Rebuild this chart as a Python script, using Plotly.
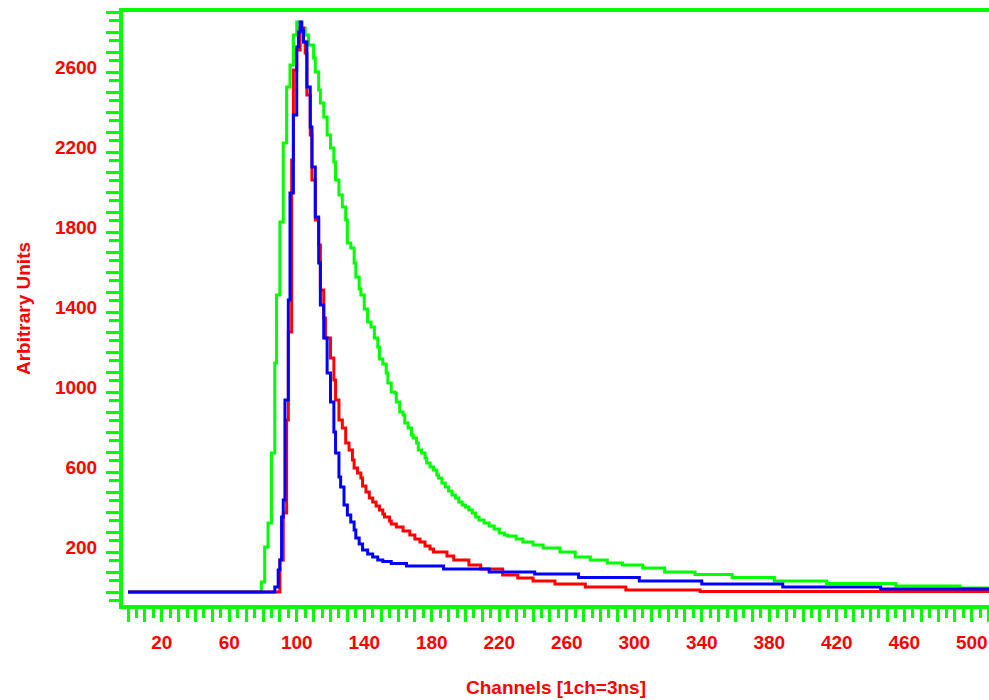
import plotly.graph_objects as go

# ---- data (channel where a level starts, count of that level) ----
green_channels = [0, 79, 81, 83, 85, 87, 88, 90, 92, 94, 96, 98, 100, 102, 105, 107, 110, 111, 113,
                  114, 116, 118, 120, 122, 123, 125, 127, 129, 130, 132, 134, 135, 137, 138, 140,
                  142, 144, 146, 148, 149, 151, 153, 154, 156, 158, 159, 161, 163, 164, 166, 168,
                  169, 171, 172, 174, 176, 177, 179, 181, 183, 184, 186, 188, 190, 192, 194, 196,
                  198, 200, 202, 204, 206, 208, 211, 214, 217, 220, 223, 225, 230, 234, 240, 246,
                  256, 265, 274, 284, 293, 305, 318, 336, 358, 383, 414, 455, 493, 511]
green_counts = [0, 50, 225, 345, 695, 1145, 1485, 1850, 2245, 2525, 2635, 2785, 2850, 2820, 2785,
                2735, 2670, 2600, 2510, 2445, 2375, 2285, 2220, 2150, 2060, 1985, 1925, 1860, 1745,
                1720, 1645, 1575, 1515, 1485, 1415, 1350, 1325, 1270, 1225, 1165, 1140, 1095, 1045,
                1000, 995, 950, 900, 885, 845, 820, 785, 770, 745, 710, 695, 670, 645, 625, 610,
                585, 570, 545, 525, 505, 485, 470, 450, 435, 425, 410, 395, 375, 360, 345, 330,
                315, 295, 285, 280, 265, 250, 235, 220, 200, 175, 160, 145, 135, 120, 100, 88, 72,
                55, 42, 30, 20, 20]

red_channels = [0, 90, 92, 94, 95, 97, 98, 100, 102, 104, 105, 106, 108, 109, 111, 113, 114, 116,
                117, 120, 122, 123, 125, 127, 129, 131, 133, 134, 136, 138, 139, 141, 143, 145,
                147, 149, 151, 152, 155, 156, 159, 163, 167, 170, 173, 176, 179, 181, 189, 193,
                202, 209, 222, 231, 240, 253, 271, 295, 339, 511]
red_counts = [0, 160, 395, 860, 1300, 2160, 2610, 2710, 2820, 2750, 2695, 2485, 2285, 2060, 1860,
              1735, 1510, 1370, 1270, 1170, 1060, 960, 860, 820, 745, 710, 660, 620, 595, 570, 530,
              500, 470, 450, 430, 410, 390, 375, 355, 340, 325, 305, 285, 265, 250, 230, 215, 200,
              180, 160, 135, 115, 85, 70, 55, 40, 25, 10, 2, 2]

blue_channels = [0, 87, 89, 90, 91, 92, 93, 95, 96, 98, 100, 101, 102, 103, 104, 106, 108, 109, 111,
                 113, 114, 116, 118, 120, 122, 123, 125, 126, 128, 130, 132, 134, 135, 137, 139,
                 142, 145, 148, 151, 156, 165, 187, 214, 241, 267, 303, 340, 388, 446, 511]
blue_counts = [0, 25, 110, 160, 375, 460, 960, 1460, 1995, 2385, 2725, 2800, 2850, 2810, 2750, 2525,
               2325, 2125, 1875, 1645, 1435, 1270, 1095, 950, 800, 695, 575, 525, 435, 385, 350,
               310, 270, 240, 210, 190, 175, 160, 152, 142, 130, 115, 100, 90, 72, 55, 40, 25, 15, 15]

x_tick_labels = [20, 60, 100, 140, 180, 220, 260, 300, 340, 380, 420, 460, 500]
y_tick_labels = [200, 600, 1000, 1400, 1800, 2200, 2600]

GREEN = "#00FF00"
RED = "#FF0000"
BLUE = "#0000FF"
FONT = dict(family="Liberation Sans", size=19, color=RED, weight="bold")

fig = go.Figure()
for xs, ys, col in [(green_channels, green_counts, GREEN),
                    (red_channels, red_counts, RED),
                    (blue_channels, blue_counts, BLUE)]:
    fig.add_trace(go.Scatter(x=xs, y=ys, mode="lines",
                             line=dict(shape="hv", width=3, color=col),
                             showlegend=False, hoverinfo="skip"))

x_tickvals = list(range(0, 511, 10))
x_ticktext = [str(v) if v in x_tick_labels else "" for v in x_tickvals]
y_tickvals = list(range(0, 2901, 100))
y_ticktext = [str(v) if v in y_tick_labels else "" for v in y_tickvals]

fig.update_layout(
    width=989, height=700,
    margin=dict(l=123, r=0, t=12, b=95),
    plot_bgcolor="white", paper_bgcolor="white",
    xaxis=dict(
        range=[-2.96, 510.2], showline=True, linecolor=GREEN, linewidth=4, mirror=True,
        ticks="outside", ticklen=13, tickwidth=3, tickcolor=GREEN,
        tickmode="array", tickvals=x_tickvals, ticktext=x_ticktext,
        tickfont=FONT, ticklabelstandoff=4,
        showgrid=False, zeroline=False,
        minor=dict(ticks="outside", ticklen=9, tickwidth=3, tickcolor=GREEN,
                   tickmode="linear", tick0=5, dtick=10, showgrid=False),
        title=dict(text="Channels [1ch=3ns]", font=FONT, standoff=30),
        automargin=False,
    ),
    yaxis=dict(
        range=[-65, 2900], showline=True, linecolor=GREEN, linewidth=4,
        ticks="outside", ticklen=13, tickwidth=3, tickcolor=GREEN,
        tickmode="array", tickvals=y_tickvals, ticktext=y_ticktext,
        tickfont=FONT, ticklabelstandoff=5, ticklabelshift=-5,
        showgrid=False, zeroline=False,
        minor=dict(ticks="outside", ticklen=10, tickwidth=3, tickcolor=GREEN,
                   tickmode="linear", tick0=60, dtick=100, showgrid=False),
        title=dict(text="Arbitrary Units", font=FONT, standoff=20),
        automargin=False,
    ),
)

fig.write_html("out.html",
               config={"displayModeBar": False},
               post_script="document.body.style.margin='0px';document.body.style.overflow='hidden';")
